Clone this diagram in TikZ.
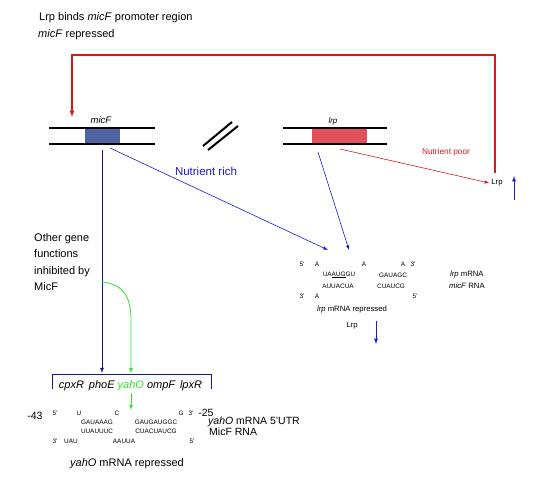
\documentclass[tikz,border=0pt]{standalone}
\usepackage{fontspec}
\setmainfont{Liberation Sans}

\definecolor{micblue}{RGB}{78,98,164}
\definecolor{lrpred}{RGB}{226,82,92}
\definecolor{linered}{RGB}{215,25,30}
\definecolor{richblue}{RGB}{25,25,215}
\definecolor{navyline}{RGB}{20,20,160}
\definecolor{yahgreen}{RGB}{50,225,50}

\begin{document}
\begin{tikzpicture}[x=1pt,y=-1pt,
    lbl/.style={inner sep=0pt, font=\fontsize{11}{12}\selectfont},
    small/.style={inner sep=0pt, font=\fontsize{7.7}{8}\selectfont},
    nt/.style={inner sep=0pt, font=\fontsize{6.4}{7}\selectfont},
    strand/.style={line width=2.3pt, black},
    genebox/.style={inner sep=0pt, minimum height=16pt}]
        \useasboundingbox (0,0) rectangle (541,489);

        % Caption at the top
        \node[lbl, anchor=west] (binds) at (39,18) {Lrp binds \textit{micF} promoter region};
        \node[lbl, anchor=west] (micrep) at (38,35) {\textit{micF} repressed};

        % Draw the micF gene
        \node[genebox, fill=micblue, minimum width=35pt] (micF) at (102.5,136) {};
        \draw[strand] (49,128) -- (155,128);
        \draw[strand] (49,144) -- (155,144);
        \node[inner sep=0pt, font=\fontsize{9.5}{10}\selectfont\itshape] (micFlbl) at (101,120) {micF};

        % Break marks between the genes
        \draw[line width=2pt] (203,146) -- (232,122);
        \draw[line width=2pt] (208,150) -- (238,126);

        % Draw the lrp gene
        \node[genebox, fill=lrpred, minimum width=55pt] (lrp) at (339.5,136) {};
        \draw[strand] (283,128) -- (387,128);
        \draw[strand] (283,144) -- (387,144);
        \node[inner sep=0pt, font=\fontsize{8}{9}\selectfont\itshape] (lrplbl) at (333,121) {lrp};

        % Lrp protein and feedback on micF
        \node[small] (lrpP) at (497,183) {Lrp};
        \coordinate (loopR) at (495,55);
        \coordinate (loopL) at (72,55);
        \coordinate (micFin) at (72,117);
        \draw[linered, line width=1.2pt, -latex] (loopR |- lrpP.north) ++(0,-6) -- (loopR) -- (loopL) -- (micFin);
        \draw[richblue, line width=0.9pt, -latex] (514,200) -- (514,176);

        % Nutrient rich / poor
        \node[inner sep=0pt, text=richblue, font=\fontsize{11.5}{12}\selectfont] (rich) at (206,171) {Nutrient rich};
        \node[inner sep=0pt, text=linered, font=\fontsize{8.3}{9}\selectfont] (poor) at (446,152) {Nutrient poor};
        \draw[linered, line width=0.6pt, -latex] (340,149) -- ([xshift=-2pt]lrpP.west);

        % lrp mRNA / micF RNA duplex
        \node[nt] (l5a) at (302,264) {5'};
        \node[nt] (lA1) at (317,264) {A};
        \node[nt] (lA2) at (364,264) {A};
        \node[nt] (lA3) at (403,264) {A};
        \node[nt] (l3a) at (413,264) {3'};
        \node[nt] (lup1) at (339,275) {UA\underline{AUG}GU};
        \node[nt] (lup2) at (393,275) {GAUAGC};
        \node[nt] (llo1) at (338,286) {AUUACUA};
        \node[nt] (llo2) at (391,286) {CUAUCG};
        \node[nt] (l3b) at (302,296) {3'};
        \node[nt] (lA4) at (317,296) {A};
        \node[nt] (l5b) at (415,296) {5'};
        \node[small, anchor=west] (lrpmrna) at (450,275) {\textit{lrp} mRNA};
        \node[small, anchor=west] (micfrna) at (449,286) {\textit{micF} RNA};
        \node[small] (lrprep) at (352,310) {\textit{lrp} mRNA repressed};
        \node[small] (lrpP2) at (352,326) {Lrp};
        \draw[richblue, line width=0.9pt, -latex] (376,321) -- (376,344);

        % Arrows into the duplex
        \coordinate (lrpin) at (328,250);
        \coordinate (lrpin2) at (349,250);
        \draw[richblue, line width=0.6pt, -latex] (110,148) -- (lrpin);
        \draw[richblue, line width=0.6pt, -latex] (318,152) -- (lrpin2);

        % Other targets of MicF
        \node[inner sep=0pt, anchor=north west, align=left, font=\fontsize{11}{16.5}\selectfont] (other) at (34,233)
            {Other gene\\functions\\inhibited by\\MicF};
        \coordinate (brk1) at (102,373);
        \coordinate (brk2) at (131,373);
        \draw[navyline, line width=0.8pt, -latex] (102,150) -- (brk1);
        \draw[yahgreen, line width=0.8pt, -latex] (102,282) .. controls (124,284) and (131,298) .. (131,320) -- (brk2);
        \draw[navyline, line width=0.9pt] (52,389) -- (52,374) -- (211,374) -- (211,389);
        \node[inner sep=0pt, font=\fontsize{11}{12}\selectfont\itshape] (genes) at (130.5,386)
            {cpxR\, phoE \textcolor{yahgreen}{yahO} ompF\, lpxR};
        \coordinate (yahin) at (131,410);
        \draw[yahgreen, line width=0.8pt, -latex] (131,393) -- (yahin);

        % yahO mRNA / MicF RNA duplex
        \node[inner sep=0pt, font=\fontsize{10.5}{11}\selectfont] (m43) at (35,416) {-43};
        \node[inner sep=0pt, font=\fontsize{10.5}{11}\selectfont] (m25) at (206,413) {-25};
        \node[nt] (y5a) at (55,413) {5'};
        \node[nt] (yU) at (79,413) {U};
        \node[nt] (yC) at (117,413) {C};
        \node[nt] (yG) at (181,413) {G};
        \node[nt] (y3a) at (191,413) {3'};
        \node[nt] (yup1) at (97,422) {GAUAAAG};
        \node[nt] (yup2) at (156,422) {GAUGAUGGC};
        \node[nt] (ylo1) at (97,431) {UUAUUUC};
        \node[nt] (ylo2) at (156,431) {CUACUAUCG};
        \node[nt] (y3b) at (55,441) {3'};
        \node[nt] (yUAU) at (71,441) {UAU};
        \node[nt] (yAAUUA) at (124,441) {AAUUA};
        \node[nt] (y5b) at (192,441) {5'};
        \node[inner sep=0pt, anchor=west, font=\fontsize{10.5}{11}\selectfont] (yahmrna) at (208,422) {\textit{yahO} mRNA 5'UTR};
        \node[inner sep=0pt, anchor=west, font=\fontsize{10.5}{11}\selectfont] (micfrna2) at (209,432) {MicF RNA};
        \node[inner sep=0pt, font=\fontsize{11}{12}\selectfont] (yahrep) at (127,464) {\textit{yahO} mRNA repressed};
\end{tikzpicture}
\end{document}
